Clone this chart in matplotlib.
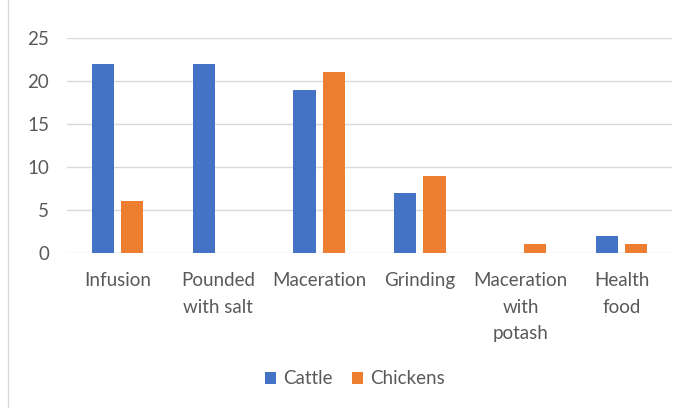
import matplotlib
matplotlib.use("Agg")
import matplotlib.pyplot as plt
import numpy as np
from matplotlib.patches import Rectangle

categories = ["Infusion", "Pounded\nwith salt", "Maceration", "Grinding", "Maceration\nwith\npotash", "Health\nfood"]
cattle = [22, 22, 19, 7, 0, 2]
chickens = [6, 0, 21, 9, 1, 1]
yticks = [0, 5, 10, 15, 20, 25]

plt.rcParams['font.family'] = ['Lato', 'DejaVu Sans']
txt = '#595959'
fs = 13.5

fig = plt.figure(figsize=(6.8, 4.08), dpi=100)
ax = fig.add_axes([67/680, 1-253/408, (672-67)/680, (253-38)/408])

x = np.arange(len(categories))
w = 0.22
off = 0.145
ax.bar(x - off, cattle, w, color='#4472C4', label='Cattle', zorder=3)
ax.bar(x + off, chickens, w, color='#ED7D31', label='Chickens', zorder=3)

ax.set_xlim(-0.5, len(categories) - 0.5)
ax.set_ylim(0, 25)
ax.set_yticks(yticks)
ax.set_yticklabels([str(v) for v in yticks], fontsize=fs, color=txt)
ax.set_xticks(x)
ax.set_xticklabels(categories, fontsize=fs, color=txt, linespacing=1.65, va='top')
ax.tick_params(axis='both', length=0)
ax.tick_params(axis='y', pad=13)
ax.tick_params(axis='x', pad=14)
ax.grid(axis='y', color='#D9D9D9', linewidth=1, zorder=0)
for s in ax.spines.values():
    s.set_visible(False)

fig.patches.append(Rectangle((8/680, -0.01), 1.0, 1.02, transform=fig.transFigure,
                             fill=False, edgecolor='#D9D9D9', linewidth=1))

leg = fig.legend(loc='center', bbox_to_anchor=(355/680, 1-379/408), ncol=2, frameon=False,
                 fontsize=fs, handlelength=0.6, handleheight=0.6, columnspacing=1.0, handletextpad=0.4)
for t in leg.get_texts():
    t.set_color(txt)

fig.savefig('out.png', dpi=100)
